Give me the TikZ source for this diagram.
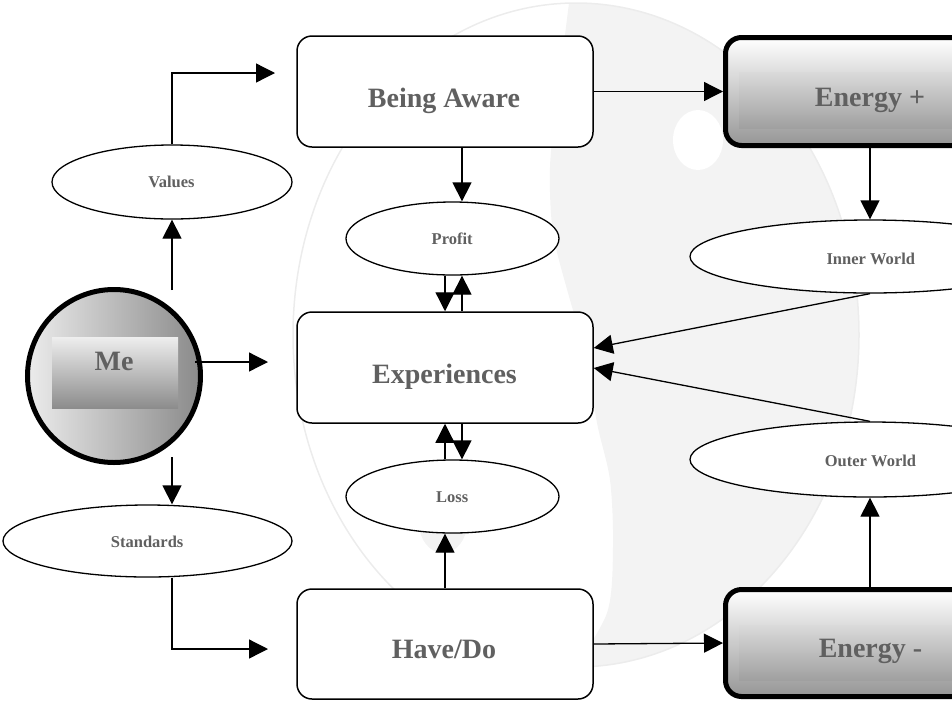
\documentclass[tikz,border=0pt]{standalone}
\usepackage{fontspec}
\setmainfont{Liberation Serif}
\usetikzlibrary{arrows.meta,shapes.geometric,calc}
\definecolor{yyg}{RGB}{243,243,243}
\definecolor{yyline}{RGB}{236,236,236}
\definecolor{txt}{RGB}{96,96,96}
\definecolor{boxbot}{RGB}{150,150,150}
\definecolor{barTop}{RGB}{218,218,218}
\definecolor{barBot}{RGB}{160,160,160}
\definecolor{meL}{RGB}{236,236,236}
\definecolor{meR}{RGB}{138,138,138}
\definecolor{mebarT}{RGB}{238,238,238}
\definecolor{mebarB}{RGB}{140,140,140}
\begin{document}
\begin{tikzpicture}[x=1pt,y=-1pt,
  conn/.style={line width=1.3pt, -{Triangle[length=19pt,width=19pt]}},
  wbox/.style={draw, line width=1.5pt, rounded corners=15pt, fill=white, minimum width=296pt, minimum height=111pt, inner sep=0pt},
  ebox/.style={draw, line width=5pt, rounded corners=16pt, top color=white, bottom color=boxbot, minimum width=289pt, inner sep=0pt},
  ebar/.style={inner sep=0pt, top color=barTop, bottom color=barBot, minimum width=262pt},
  oval/.style={draw, ellipse, line width=1.3pt, fill=white, inner sep=0pt},
  bigtxt/.style={text=txt, font=\fontsize{28}{30}\selectfont\bfseries, anchor=base, inner sep=0pt},
  smalltxt/.style={text=txt, font=\fontsize{16.5}{18}\selectfont\bfseries, anchor=base, inner sep=0pt},
]
\useasboundingbox (0,0) rectangle (952,702);
\clip (0,0) rectangle (952,702);

% faint yin-yang background
\begin{scope}
  \clip (576,335) ellipse [x radius=283, y radius=332];
  \fill[yyg] (570,-20) -- (1000,-20) -- (1000,720) -- (570,720)
    -- plot[smooth] coordinates {(570,675) (607,613) (613,547) (610,480) (597,423) (585,350) (570,300) (553,233) (550,167) (557,100) (570,-5)}
    -- cycle;
\end{scope}
\fill[white] (698,140) ellipse [x radius=25, y radius=30];
\fill[yyg] (443,523) ellipse [x radius=24, y radius=30];
\draw[yyline, line width=1.5pt] (576,335) ellipse [x radius=283, y radius=332];

% boxes
\node[wbox] (ba) at (445,91.5) {};
\node[wbox] (exp) at (445,367.5) {};
\node[wbox, minimum height=110pt] (hd) at (445,644) {};
\node[ebox, minimum height=108pt] (eplus) at (870,91.5) {};
\node[ebar, minimum height=56pt] (epbar) at (870,100) {};
\node[ebox, minimum height=107pt] (eminus) at (870,643) {};
\node[ebar, minimum height=55pt] (embar) at (870,652.5) {};

% Me
\node[circle, draw, line width=5pt, minimum size=173pt, inner sep=0pt, left color=meL, right color=meR] (me) at (114,376) {};
\node[inner sep=0pt, minimum width=126pt, minimum height=71pt, top color=mebarT, bottom color=mebarB] (mebar) at (115,372.5) {};

% ellipses
\node[oval, minimum width=240pt, minimum height=74pt] (values) at (172,182) {};
\node[oval, minimum width=289pt, minimum height=72pt] (standards) at (147.5,541) {};
\node[oval, minimum width=213pt, minimum height=73pt] (profit) at (452.5,238.5) {};
\node[oval, minimum width=213pt, minimum height=73pt] (loss) at (452.5,496.5) {};
\node[oval, minimum width=360pt, minimum height=73pt] (inner) at (870,256.5) {};
\node[oval, minimum width=360pt, minimum height=75pt] (outer) at (870,459.5) {};

% texts
\node[bigtxt] (batxt) at (444,107) {Being Aware};
\node[bigtxt] (exptxt) at (444.5,383.3) {Experiences};
\node[bigtxt] (hdtxt) at (444,658) {Have/Do};
\node[bigtxt] (eptxt) at (870,106) {Energy +};
\node[bigtxt] (emtxt) at (870.5,657.3) {Energy -};
\node[bigtxt] (metxt) at (114,370) {Me};
\node[smalltxt] (valtxt) at (171.5,187.3) {Values};
\node[smalltxt] (stdtxt) at (147.2,547.3) {Standards};
\node[smalltxt] (protxt) at (452.2,244.3) {Profit};
\node[smalltxt] (losstxt) at (452.2,502.7) {Loss};
\node[smalltxt] (inntxt) at (870.8,264.3) {Inner World};
\node[smalltxt] (outtxt) at (870.5,466.7) {Outer World};

% helper coordinates
\coordinate (mevs) at (172,290);
\coordinate (mess) at (172,457);
\coordinate (mees) at (195,362);
\coordinate (expin) at (268,362);
\coordinate (bain) at (275,73);
\coordinate (hdin) at (268,649);
\coordinate (xl) at (445,0);
\coordinate (xr) at (462,0);

% connectors
\draw[conn] (mevs) -- (mevs |- values.south);
\draw[conn] (values.north) |- (bain);
\draw[conn] (mess) -- (mess |- standards.north);
\draw[conn] (mess |- standards.south) |- (hdin);
\draw[conn] (mees) -- (expin);

\draw[conn] (xr |- ba.south) -- (xr |- profit.north);
\draw[conn] (xl |- profit.south) -- (xl |- exp.north);
\draw[conn] (xr |- exp.north) -- (xr |- profit.south);
\draw[conn] (xl |- loss.north) -- (xl |- exp.south);
\draw[conn] (xr |- exp.south) -- (xr |- loss.north);
\draw[conn] (xl |- hd.north) -- (xl |- loss.south);

\draw[conn] (ba.east) -- (eplus.west);
\draw[conn] (hd.east) -- (eminus.west);
\draw[conn] (eplus.south) -- (inner.north);
\draw[conn] (eminus.north) -- (outer.south);
\draw[conn] (inner.south) -- ($(exp.east)+(0,-19.5)$);
\draw[conn] (outer.north) -- ($(exp.east)+(0,0.5)$);
\end{tikzpicture}
\end{document}
